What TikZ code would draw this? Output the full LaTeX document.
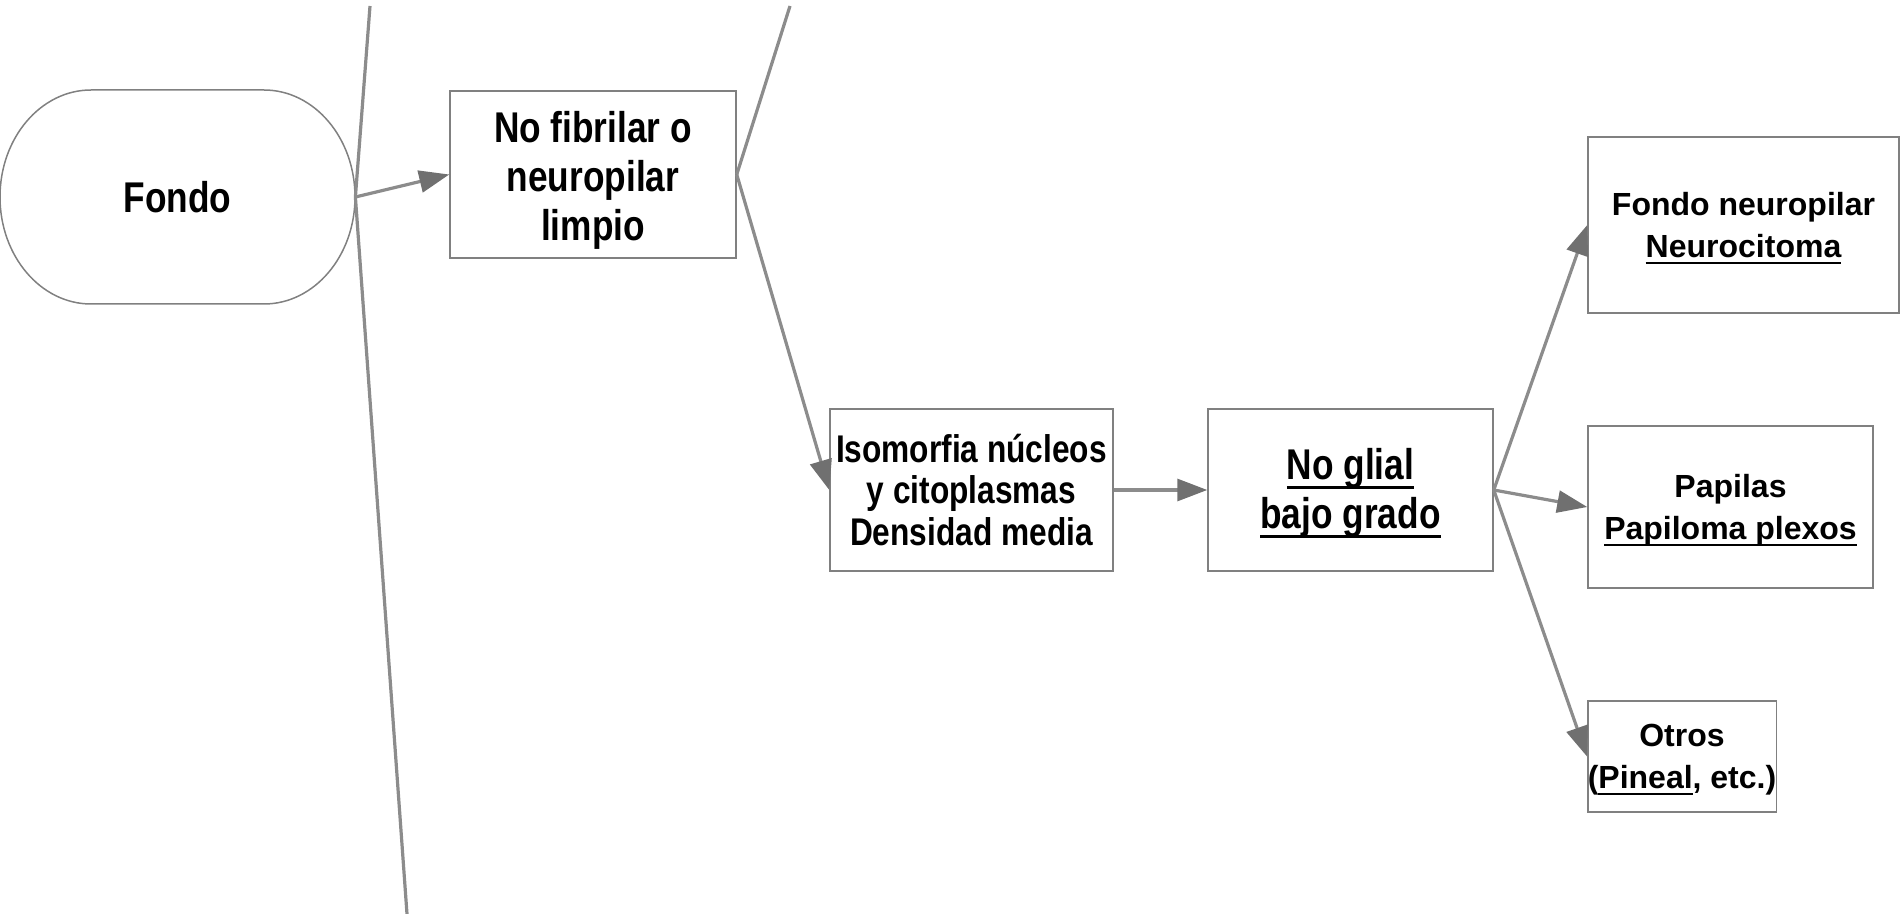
\documentclass[tikz,border=0pt]{standalone}
\usepackage{fontspec}
\setmainfont{Liberation Sans}
\newfontfamily\narrowfont[FakeStretch=0.82]{Liberation Sans}
\usetikzlibrary{arrows.meta}
\definecolor{boxgray}{RGB}{128,128,128}
\definecolor{linegray}{RGB}{140,140,140}
\definecolor{tipgray}{RGB}{112,112,112}
% underlines that do not change the line depth
\newsavebox\myulbox
\newcommand\ulbig[1]{\leavevmode\sbox\myulbox{#1}\smash{\rlap{\vrule width \wd\myulbox height -3.2pt depth 4.6pt}}\usebox\myulbox}
\newcommand\ulsmall[1]{\leavevmode\sbox\myulbox{#1}\smash{\rlap{\vrule width \wd\myulbox height -2.3pt depth 3.3pt}}\usebox\myulbox}
\begin{document}
\begin{tikzpicture}[x=0.5pt,y=-0.5pt,
  box/.style={draw=boxgray, line width=0.75pt, inner sep=0pt, align=center, fill=white},
  bignarrow/.style={font=\narrowfont\bfseries\fontsize{21.5}{24.5}\selectfont},
  smallnarrow/.style={font=\narrowfont\bfseries\fontsize{19.3}{20.6}\selectfont},
  wide/.style={font=\bfseries\fontsize{16}{21}\selectfont},
  line/.style={draw=linegray, line width=1.6pt},
  conn/.style={line, -{Triangle[length=15pt,width=11pt,fill=tipgray,color=tipgray]}}]
\useasboundingbox (0,0) rectangle (1901,914);
% Fondo (stadium)
\node[bignarrow, minimum width=177.5pt, minimum height=107pt, inner sep=0pt] (fondo) at (177.5,197) {Fondo};
\draw[boxgray, line width=0.75pt] (91,90) -- (264,90)
  arc[start angle=-90, end angle=90, x radius=91, y radius=107] -- (91,304)
  arc[start angle=90, end angle=270, x radius=91, y radius=107] -- cycle;
% boxes
\node[box, bignarrow, minimum width=143pt, minimum height=83.5pt] (nofib) at (593,174.5) {\rule{0pt}{21pt}No fibrilar o\\neuropilar\\limpio};
\node[box, smallnarrow, minimum width=141.5pt, minimum height=81pt] (iso) at (971.5,490) {Isomorfia núcleos\\y citoplasmas\\Densidad media};
\node[box, bignarrow, minimum width=142.5pt, minimum height=81pt] (noglial) at (1350.5,490) {\rule{0pt}{18.4pt}\ulbig{No glial}\\\ulbig{bajo grado}};
\node[box, wide, minimum width=155.5pt, minimum height=88pt] (neuro) at (1743.5,225) {Fondo neuropilar\\\ulsmall{Neurocitoma}};
\node[box, wide, minimum width=142.5pt, minimum height=81pt] (papilas) at (1730.5,507) {\rule{0pt}{14.4pt}Papilas\\\ulsmall{Papiloma plexos}};
\node[box, wide, minimum width=94pt, minimum height=55.5pt] (otros) at (1682,756.5) {\rule{0pt}{14.4pt}Otros\\(\ulsmall{Pineal}, etc.)};
% free ends of cut-off connectors
\coordinate (topA) at (370,6);
\coordinate (botA) at (407,914);
\coordinate (topB) at (790,6);
% connectors
\draw[line] (fondo.east) -- (topA);
\draw[line] (fondo.east) -- (botA);
\draw[conn] (fondo.east) -- (nofib.west);
\draw[line] (nofib.east) -- (topB);
\draw[conn] (nofib.east) -- (iso.west);
\draw[conn] (iso.east) -- (noglial.west);
\draw[conn] (noglial.east) -- (neuro.west);
\draw[conn] (noglial.east) -- (papilas.west);
\draw[conn] (noglial.east) -- (otros.west);
\end{tikzpicture}
\end{document}
